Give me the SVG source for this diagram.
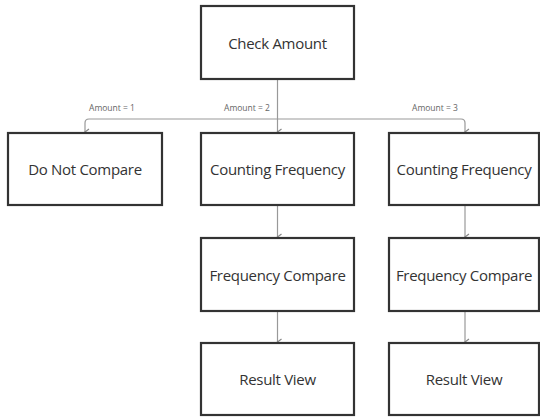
<svg xmlns="http://www.w3.org/2000/svg" width="540" height="417" viewBox="0 0 540 417">
<defs>
<style>
.box{fill:#fff;stroke:#333;stroke-width:2.2}
.t{font-family:"Open Sans","Noto Sans",sans-serif;font-size:15px;letter-spacing:-0.3px;fill:#333;text-anchor:middle;dominant-baseline:central}
.lbl{font-family:"Open Sans","Noto Sans",sans-serif;font-size:8.5px;fill:#666;text-anchor:middle}
.c{fill:none;stroke:#999;stroke-width:1.2}
</style>
<marker id="ah" markerWidth="8" markerHeight="8" refX="4" refY="6" orient="auto-start-reverse" markerUnits="userSpaceOnUse" viewBox="0 0 8 8">
<path d="M1,2 L4,6 L7,2" fill="none" stroke="#888" stroke-width="1.2"/>
</marker>
</defs>
<rect width="540" height="417" fill="#fff"/>
<g id="connectors">
<path class="c" d="M277.5,79 V132" marker-end="url(#ah)"/>
<path class="c" d="M89,119 H461 Q465,119 465,123 V132" marker-end="url(#ah)"/>
<path class="c" d="M89,119 Q85,119 85,123 V132" marker-end="url(#ah)"/>
<path class="c" d="M277.5,205 V237" marker-end="url(#ah)"/>
<path class="c" d="M277.5,311 V342" marker-end="url(#ah)"/>
<path class="c" d="M465,205 V237" marker-end="url(#ah)"/>
<path class="c" d="M465,311 V342" marker-end="url(#ah)"/>
<text class="lbl" x="112" y="111">Amount = 1</text>
<text class="lbl" x="247" y="111">Amount = 2</text>
<text class="lbl" x="435" y="111">Amount = 3</text>
</g>
<g id="check-amount"><rect class="box" x="201" y="6" width="153" height="73"/><text class="t" x="277.5" y="42.5">Check Amount</text></g>
<g id="do-not-compare"><rect class="box" x="8" y="133" width="154" height="72"/><text class="t" x="85" y="169">Do Not Compare</text></g>
<g id="counting-frequency-2"><rect class="box" x="201" y="133" width="153" height="72"/><text class="t" x="277.5" y="169">Counting Frequency</text></g>
<g id="counting-frequency-3"><rect class="box" x="389" y="133" width="150" height="72"/><text class="t" x="464" y="169">Counting Frequency</text></g>
<g id="frequency-compare-2"><rect class="box" x="201" y="238" width="153" height="73"/><text class="t" x="277.5" y="274.5">Frequency Compare</text></g>
<g id="frequency-compare-3"><rect class="box" x="389" y="238" width="150" height="73"/><text class="t" x="464" y="274.5">Frequency Compare</text></g>
<g id="result-view-2"><rect class="box" x="201" y="343" width="153" height="72"/><text class="t" x="277.5" y="379">Result View</text></g>
<g id="result-view-3"><rect class="box" x="389" y="343" width="150" height="72"/><text class="t" x="464" y="379">Result View</text></g>
</svg>
